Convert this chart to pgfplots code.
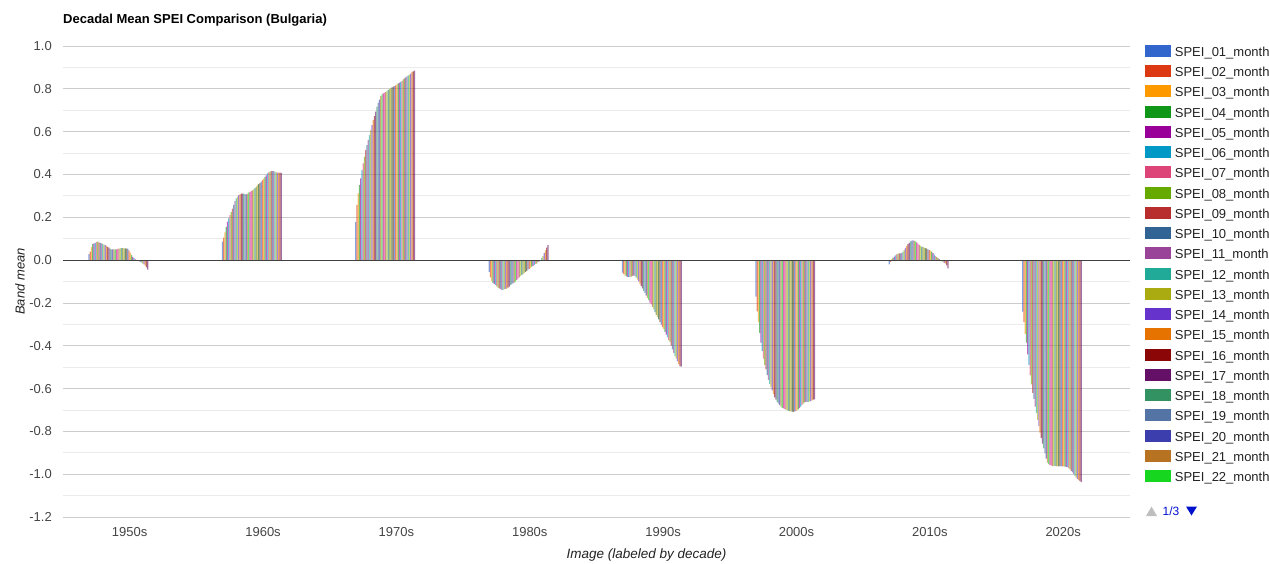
\documentclass[border=0pt]{standalone}
\usepackage{fontspec}
\setmainfont{Liberation Sans}
\usepackage{pgfplots}
\usepackage{pgfplotstable}
\pgfplotsset{compat=1.18}

\definecolor{spei1}{HTML}{3366CC}
\definecolor{spei2}{HTML}{DC3912}
\definecolor{spei3}{HTML}{FF9900}
\definecolor{spei4}{HTML}{109618}
\definecolor{spei5}{HTML}{990099}
\definecolor{spei6}{HTML}{0099C6}
\definecolor{spei7}{HTML}{DD4477}
\definecolor{spei8}{HTML}{66AA00}
\definecolor{spei9}{HTML}{B82E2E}
\definecolor{spei10}{HTML}{316395}
\definecolor{spei11}{HTML}{994499}
\definecolor{spei12}{HTML}{22AA99}
\definecolor{spei13}{HTML}{AAAA11}
\definecolor{spei14}{HTML}{6633CC}
\definecolor{spei15}{HTML}{E67300}
\definecolor{spei16}{HTML}{8B0707}
\definecolor{spei17}{HTML}{651067}
\definecolor{spei18}{HTML}{329262}
\definecolor{spei19}{HTML}{5574A6}
\definecolor{spei20}{HTML}{3B3EAC}
\definecolor{spei21}{HTML}{B77322}
\definecolor{spei22}{HTML}{16D620}
\definecolor{spei23}{HTML}{B91383}
\definecolor{spei24}{HTML}{F4359E}
\definecolor{spei25}{HTML}{9C5935}
\definecolor{spei26}{HTML}{A9C413}
\definecolor{spei27}{HTML}{2A778D}
\definecolor{spei28}{HTML}{668D1C}
\definecolor{spei29}{HTML}{BEA413}
\definecolor{spei30}{HTML}{0C5922}
\definecolor{spei31}{HTML}{743411}
\colorlet{spei32}{spei1}
\colorlet{spei33}{spei2}
\colorlet{spei34}{spei3}
\colorlet{spei35}{spei4}
\colorlet{spei36}{spei5}
\colorlet{spei37}{spei6}
\colorlet{spei38}{spei7}
\colorlet{spei39}{spei8}
\colorlet{spei40}{spei9}
\colorlet{spei41}{spei10}
\colorlet{spei42}{spei11}
\colorlet{spei43}{spei12}
\colorlet{spei44}{spei13}
\colorlet{spei45}{spei14}
\colorlet{spei46}{spei15}
\colorlet{spei47}{spei16}
\colorlet{spei48}{spei17}
\definecolor{tickgray}{HTML}{444444}
\definecolor{labgray}{HTML}{222222}
\definecolor{majgrid}{HTML}{CCCCCC}
\definecolor{mingrid}{HTML}{EBEBEB}
\definecolor{pagerblue}{HTML}{0011CC}

% rows = SPEI band (1..48), columns = decades
\pgfplotstableread{
k  y50    y60    y70    y80    y90    y00    y10    y20
1  0.028  0.086  0.179  -0.055 -0.058 -0.171 -0.020 -0.241
2  0.040  0.105  0.257  -0.081 -0.065 -0.240 -0.008 -0.290
3  0.060  0.130  0.312  -0.097 -0.071 -0.290 0.004  -0.345
4  0.075  0.155  0.350  -0.106 -0.075 -0.340 0.010  -0.385
5  0.078  0.180  0.382  -0.111 -0.078 -0.385 0.016  -0.440
6  0.080  0.195  0.420  -0.117 -0.080 -0.425 0.022  -0.490
7  0.085  0.210  0.452  -0.123 -0.079 -0.460 0.027  -0.538
8  0.086  0.225  0.483  -0.129 -0.077 -0.490 0.030  -0.580
9  0.083  0.240  0.514  -0.132 -0.074 -0.510 0.031  -0.620
10 0.080  0.258  0.537  -0.136 -0.071 -0.537 0.031  -0.648
11 0.078  0.275  0.561  -0.139 -0.075 -0.560 0.033  -0.685
12 0.076  0.288  0.584  -0.140 -0.082 -0.578 0.040  -0.715
13 0.072  0.297  0.607  -0.137 -0.091 -0.595 0.048  -0.746
14 0.070  0.303  0.630  -0.135 -0.099 -0.608 0.057  -0.776
15 0.066  0.307  0.654  -0.133 -0.110 -0.625 0.065  -0.806
16 0.062  0.310  0.673  -0.129 -0.122 -0.641 0.074  -0.830
17 0.058  0.311  0.693  -0.124 -0.132 -0.652 0.081  -0.857
18 0.052  0.310  0.717  -0.117 -0.145 -0.664 0.087  -0.880
19 0.050  0.308  0.735  -0.113 -0.154 -0.670 0.091  -0.903
20 0.050  0.307  0.750  -0.109 -0.166 -0.678 0.092  -0.927
21 0.050  0.310  0.766  -0.105 -0.177 -0.685 0.090  -0.946
22 0.050  0.315  0.774  -0.100 -0.187 -0.690 0.087  -0.953
23 0.050  0.319  0.779  -0.092 -0.199 -0.693 0.083  -0.957
24 0.052  0.322  0.782  -0.086 -0.207 -0.695 0.077  -0.960
25 0.054  0.326  0.785  -0.081 -0.218 -0.698 0.071  -0.961
26 0.055  0.330  0.790  -0.075 -0.230 -0.702 0.067  -0.961
27 0.056  0.336  0.794  -0.070 -0.243 -0.704 0.063  -0.962
28 0.056  0.343  0.798  -0.065 -0.256 -0.705 0.060  -0.962
29 0.055  0.350  0.802  -0.060 -0.265 -0.707 0.058  -0.963
30 0.055  0.355  0.807  -0.055 -0.277 -0.708 0.056  -0.963
31 0.054  0.360  0.810  -0.050 -0.288 -0.709 0.053  -0.962
32 0.053  0.367  0.813  -0.045 -0.301 -0.707 0.050  -0.963
33 0.045  0.374  0.816  -0.041 -0.313 -0.705 0.047  -0.963
34 0.035  0.380  0.821  -0.036 -0.322 -0.701 0.044  -0.964
35 0.023  0.388  0.826  -0.031 -0.335 -0.697 0.039  -0.965
36 0.015  0.396  0.829  -0.027 -0.348 -0.691 0.032  -0.966
37 0.009  0.405  0.832  -0.022 -0.361 -0.684 0.025  -0.967
38 0.004  0.410  0.836  -0.018 -0.374 -0.676 0.019  -0.972
39 0.001  0.413  0.844  -0.016 -0.383 -0.670 0.014  -0.978
40 -0.002 0.415  0.849  -0.010 -0.400 -0.665 0.009  -0.984
41 -0.005 0.416  0.854  -0.006 -0.417 -0.662 0.004  -0.992
42 -0.008 0.415  0.858  -0.001 -0.433 -0.662 0.000  -1.000
43 -0.012 0.412  0.863  0.010  -0.449 -0.662 -0.005 -1.009
44 -0.016 0.410  0.866  0.018  -0.460 -0.661 -0.009 -1.016
45 -0.020 0.409  0.871  0.033  -0.473 -0.658 -0.013 -1.023
46 -0.026 0.408  0.879  0.045  -0.485 -0.655 -0.017 -1.028
47 -0.034 0.408  0.882  0.058  -0.495 -0.652 -0.025 -1.033
48 -0.045 0.407  0.885  0.070  -0.498 -0.650 -0.039 -1.037
}\dataraw
\pgfplotstabletranspose[colnames from=k]\datat\dataraw

\begin{document}
\begin{tikzpicture}
\useasboundingbox (-63pt,-46pt) rectangle (1206pt,517pt);
\begin{axis}[
  at={(0pt,0pt)}, anchor=south west,
  scale only axis, width=1067pt, height=471pt,
  xmin=-0.5, xmax=7.5, ymin=-1.2, ymax=1.0,
  enlargelimits=false,
  axis line style={draw=none},
  tick style={draw=none},
  major tick length=0pt, minor tick length=0pt,
  xtick={0,1,2,3,4,5,6,7},
  xticklabels={1950s,1960s,1970s,1980s,1990s,2000s,2010s,2020s},
  ytick={-1.2,-1.0,-0.8,-0.6,-0.4,-0.2,0,0.2,0.4,0.6,0.8,1.0},
  minor y tick num=1,
  ymajorgrids, yminorgrids,
  major grid style={draw=majgrid, line width=0.8pt},
  minor grid style={draw=mingrid, line width=0.8pt},
  /pgf/number format/assume math mode=true,
  yticklabel style={/pgf/number format/fixed, /pgf/number format/fixed zerofill, /pgf/number format/precision=1},
  tick label style={font=\fontsize{13}{15}\selectfont, text=tickgray, inner sep=0pt},
  yticklabel style={anchor=east, xshift=-11pt},
  xticklabel style={anchor=base, yshift=-19.7pt},
  title={Decadal Mean SPEI Comparison (Bulgaria)},
  title style={at={(axis description cs:0,1)}, anchor=base west, yshift=16pt, inner sep=0pt, font=\bfseries\fontsize{13}{15}\selectfont},
  ylabel={Band mean},
  ylabel style={at={(axis description cs:-0.0403,0.5)}, anchor=center, font=\itshape\fontsize{13}{15}\selectfont, text=labgray},
  xlabel={Image (labeled by decade)},
  xlabel style={at={(axis description cs:0.547,-0.0806)}, anchor=center, font=\itshape\fontsize{13.5}{15}\selectfont, text=labgray},
  legend cell align=left,
  legend style={at={(axis description cs:1.01406,1.00255)}, anchor=north west,
    draw=none, fill=none, inner sep=0pt, outer sep=0pt,
    row sep=5.75pt, column sep=4pt,
    font=\fontsize{13}{15}\selectfont,
    nodes={inner sep=0pt, text height=10pt, text depth=3pt, text=labgray}},
]
\pgfplotsinvokeforeach{1,...,48}{
  \addplot[ybar, bar width=0.009364, bar shift=0pt, draw=none,
    fill=spei#1, fill opacity=0.6,
    legend image code/.code={\fill[spei#1, fill opacity=1] (0pt,-4pt) rectangle (26pt,8pt);}]
    table[x expr={\coordindex-0.309+(#1-0.5)*0.009364}, y=#1] {\datat};
}
\addplot[forget plot, draw=black!75, line width=1pt] coordinates {(-0.5,0) (7.5,0)};
\legend{SPEI\_01\_month,SPEI\_02\_month,SPEI\_03\_month,SPEI\_04\_month,SPEI\_05\_month,SPEI\_06\_month,SPEI\_07\_month,SPEI\_08\_month,SPEI\_09\_month,SPEI\_10\_month,SPEI\_11\_month,SPEI\_12\_month,SPEI\_13\_month,SPEI\_14\_month,SPEI\_15\_month,SPEI\_16\_month,SPEI\_17\_month,SPEI\_18\_month,SPEI\_19\_month,SPEI\_20\_month,SPEI\_21\_month,SPEI\_22\_month}
\end{axis}
% legend pager
\fill[black!25] (1083pt,1pt) -- (1094pt,1pt) -- (1088.5pt,10.5pt) -- cycle;
\node[anchor=center, inner sep=0pt, text=pagerblue, font=\fontsize{12}{14}\selectfont] at (1108pt,6pt) {1/3};
\fill[pagerblue] (1123pt,10.5pt) -- (1134pt,10.5pt) -- (1128.5pt,1.5pt) -- cycle;
\end{tikzpicture}
\end{document}
